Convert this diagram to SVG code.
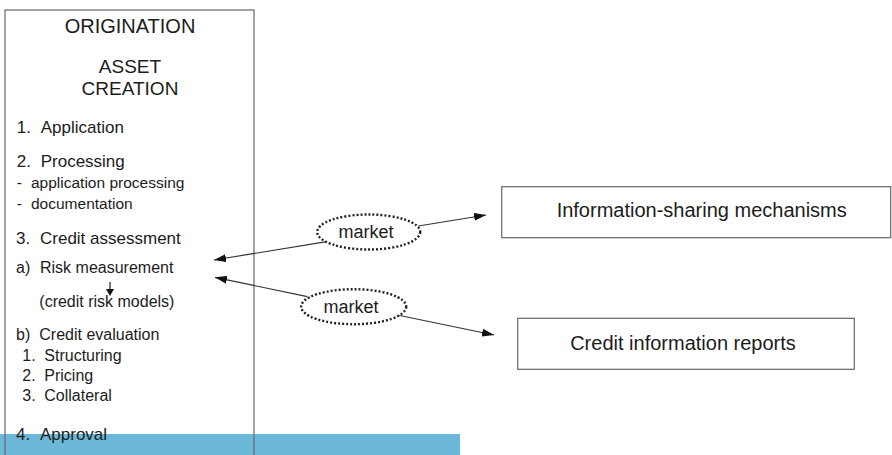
<svg xmlns="http://www.w3.org/2000/svg" width="892" height="455" viewBox="0 0 892 455">
  <style>
    text { font-family: "Liberation Sans", Arial, sans-serif; fill: #1c1c1c; }
    .box { fill: none; stroke: #666; stroke-width: 1.2; }
    .title { font-size: 19px; text-anchor: middle; }
    .big { font-size: 17px; }
    .small { font-size: 16px; }
    .sub { font-size: 15.5px; }
    .cloud { fill: #fff; stroke: #222; stroke-width: 2.4; stroke-dasharray: 2 2; }
    .label { font-size: 18px; text-anchor: middle; }
    .node { font-size: 20px; text-anchor: middle; }
    .conn { stroke: #333; stroke-width: 1.2; fill: none; marker-end: url(#head); }
  </style>
  <defs>
    <marker id="head" markerUnits="userSpaceOnUse" markerWidth="13" markerHeight="8" refX="12" refY="4" orient="auto">
      <path d="M0,0 L12,4 L0,8 z" fill="#111"/>
    </marker>
  </defs>

  <rect width="892" height="455" fill="#fff"/>

  <!-- footer band -->
  <rect x="0" y="434" width="460" height="21" fill="#6CB8D8"/>

  <g id="origination">
    <rect class="box" x="5" y="10" width="249" height="460"/>
    <text class="title" x="130" y="33" style="font-size:20px">ORIGINATION</text>
    <text class="title" x="130" y="73">ASSET</text>
    <text class="title" x="130" y="95">CREATION</text>
    <text class="big" y="133"><tspan x="16.7">1.</tspan><tspan x="40.7">Application</tspan></text>
    <text class="big" y="167"><tspan x="16.7">2.</tspan><tspan x="40.7">Processing</tspan></text>
    <text class="sub" y="188"><tspan x="16.7">-</tspan><tspan x="31">application processing</tspan></text>
    <text class="sub" y="208.5"><tspan x="16.7">-</tspan><tspan x="31">documentation</tspan></text>
    <text class="big" y="244"><tspan x="16">3.</tspan><tspan x="40">Credit assessment</tspan></text>
    <text class="small" y="272.7"><tspan x="16">a)</tspan><tspan x="40">Risk measurement</tspan></text>
    <line x1="110" y1="282" x2="110" y2="291" stroke="#222" stroke-width="1.2"/>
    <path d="M106,289 L110,296 L114,289 z" fill="#111"/>
    <text class="small" x="39.3" y="307.3">(credit risk models)</text>
    <text class="small" y="340"><tspan x="16">b)</tspan><tspan x="39.3">Credit evaluation</tspan></text>
    <text class="small" y="360.7"><tspan x="22.3">1.</tspan><tspan x="44.3">Structuring</tspan></text>
    <text class="small" y="381"><tspan x="22.3">2.</tspan><tspan x="44.3">Pricing</tspan></text>
    <text class="small" y="401"><tspan x="22.3">3.</tspan><tspan x="44.3">Collateral</tspan></text>
    <text class="big" y="440"><tspan x="16">4.</tspan><tspan x="40">Approval</tspan></text>
  </g>

  <g id="info-sharing">
    <rect class="box" x="501.7" y="186.7" width="389" height="51"/>
    <text class="node" x="701.7" y="217">Information-sharing mechanisms</text>
  </g>

  <g id="credit-reports">
    <rect class="box" x="517.7" y="318.3" width="336.6" height="51"/>
    <text class="node" x="683" y="350">Credit information reports</text>
  </g>

  <g id="connectors">
    <line class="conn" x1="326.7" y1="241.7" x2="214" y2="260"/>
    <line class="conn" x1="418.3" y1="226" x2="486" y2="215"/>
    <line class="conn" x1="307.3" y1="296.7" x2="215" y2="277.3"/>
    <line class="conn" x1="397.3" y1="315" x2="494" y2="335"/>
  </g>

  <g id="market-upper">
    <ellipse class="cloud" cx="368.7" cy="232" rx="51.5" ry="17.5"/>
    <text class="label" x="366" y="238">market</text>
  </g>

  <g id="market-lower">
    <ellipse class="cloud" cx="353.7" cy="306.7" rx="52.5" ry="17.5"/>
    <text class="label" x="351" y="312.5">market</text>
  </g>
</svg>
